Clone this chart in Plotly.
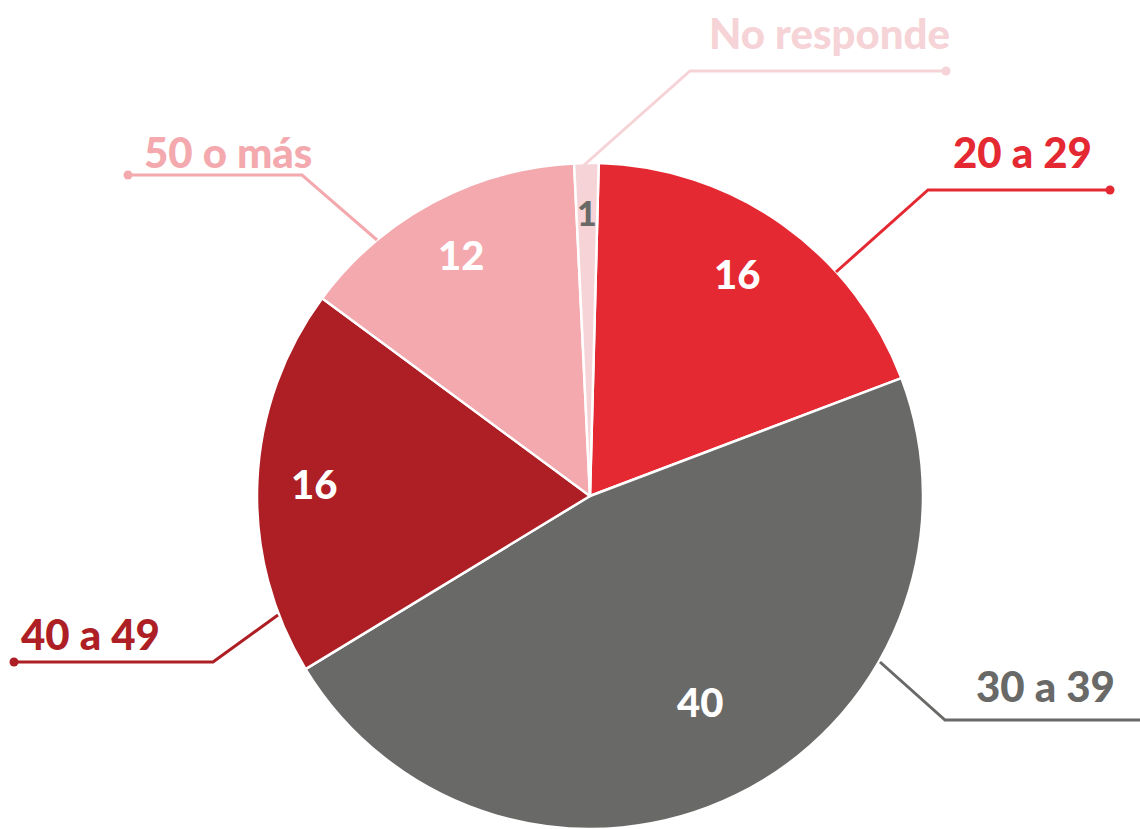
import math
import plotly.graph_objects as go

W, H = 1140, 829

categories = ["20 a 29", "30 a 39", "40 a 49", "50 o más", "No responde"]
values = [16, 40, 16, 12, 1]
colors = ["#E52933", "#696967", "#AD1F25", "#F3A9AD", "#F5D3D6"]
value_text_colors = ["white", "white", "white", "white", "#696967"]
value_radius_frac = [0.80, 0.70, 0.83, 0.82, 0.85]
value_angle_shift = [-2, -2, 0, 0, 0]

# Pie geometry (pixels)
CX, CY, R = 590, 496, 333
ROT = 1.5

fig = go.Figure(go.Pie(
    labels=categories, values=values, sort=False, direction="clockwise",
    rotation=ROT, marker=dict(colors=colors, line=dict(color="white", width=2.5)),
    textinfo="none", hoverinfo="label+value", showlegend=False,
    domain=dict(x=[(CX - R) / W, (CX + R) / W],
                y=[max(0, (H - CY - R) / H), min(1, (H - CY + R) / H)]),
))

def px2paper(x, y):
    return x / W, 1 - y / H

annotations = []
total = sum(values)
cum = 0
for v, tc, rf, sh in zip(values, value_text_colors, value_radius_frac, value_angle_shift):
    mid = ROT + (cum + v / 2) / total * 360 + sh
    cum += v
    a = math.radians(mid)
    x = CX + rf * R * math.sin(a)
    y = CY - rf * R * math.cos(a)
    px, py = px2paper(x, y)
    annotations.append(dict(x=px, y=py, xref="paper", yref="paper", text=str(v),
                            xanchor="center", yanchor="middle",
                            showarrow=False,
                            font=dict(family="Lato", size=40 if v > 1 else 34, color=tc, weight=900)))

# Outside labels: text position, leader polyline (pixels)
label_pos = [(1022, 152), (1045, 686), (90, 634), (228, 152), (829, 33)]
leaders = [
    [(836, 272), (928, 190), (1110, 190)],
    [(880, 662), (945, 720), (1145, 720)],
    [(278, 615), (213, 662), (14, 662)],
    [(377, 240), (302, 175), (128, 175)],
    [(583, 166), (690, 71), (946, 71)],
]
label_colors = ["#E52933", "#696967", "#AD1F25", "#F3A9AD", "#F5D3D6"]

shapes = []
for cat, (tx, ty), pts, col in zip(categories, label_pos, leaders, label_colors):
    px, py = px2paper(tx, ty)
    annotations.append(dict(x=px, y=py, xref="paper", yref="paper", text=cat,
                            xanchor="center", yanchor="middle",
                            showarrow=False, font=dict(family="Lato", size=42, color=col, weight=900)))
    path = "M " + " L ".join(f"{x/W},{1 - y/H}" for x, y in pts)
    shapes.append(dict(type="path", path=path, xref="paper", yref="paper",
                       line=dict(color=col, width=3)))
    ex, ey = pts[-1]
    shapes.append(dict(type="circle", xref="paper", yref="paper",
                       x0=(ex - 4.5) / W, x1=(ex + 4.5) / W,
                       y0=1 - (ey + 4.5) / H, y1=1 - (ey - 4.5) / H,
                       fillcolor=col, line=dict(width=0)))

fig.update_layout(width=W, height=H, margin=dict(l=0, r=0, t=0, b=0),
                  paper_bgcolor="white", plot_bgcolor="white",
                  annotations=annotations, shapes=shapes)
fig.write_html("out.html", config={"displayModeBar": False},
               post_script="document.body.style.margin='0';document.body.style.overflow='hidden';")
